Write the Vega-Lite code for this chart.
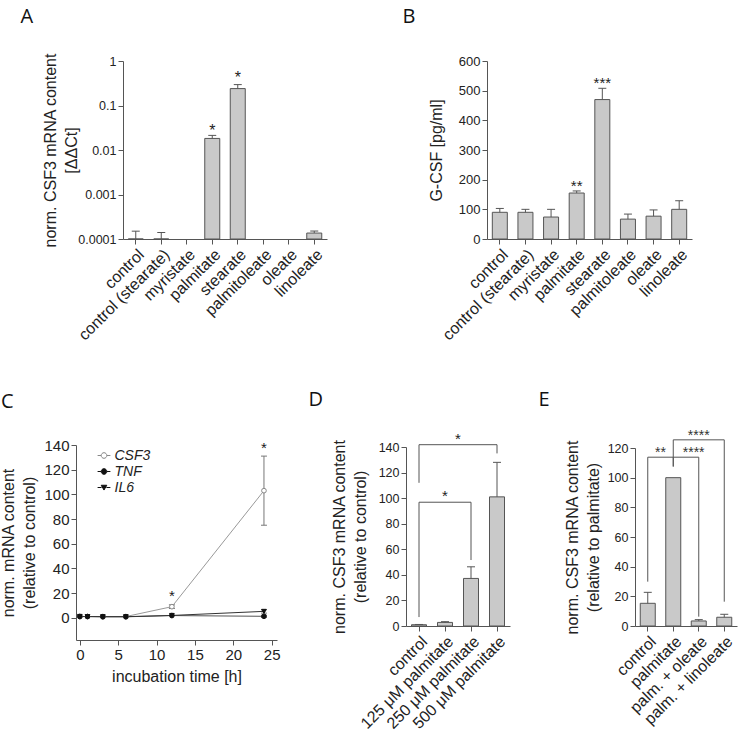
{
  "$schema": "https://vega.github.io/schema/vega-lite/v6.json",
  "width": 738,
  "height": 732,
  "autosize": {"type": "none"},
  "padding": 0,
  "title": {"text": "C", "anchor": "start", "frame": "group", "offset": 0, "baseline": "alphabetic", "dx": 1, "dy": 428, "font": "Open Sans", "fontSize": 20, "fontWeight": "normal", "color": "#111"},
  "layer": [
    {
      "data": {"values": [
        {"cat": "control", "m": 0.0001, "u": 0.00015},
        {"cat": "control (stearate)", "m": 0.0001, "u": 0.00014},
        {"cat": "myristate", "m": null, "u": null},
        {"cat": "palmitate", "m": 0.0182, "u": 0.0213, "star": "*", "sy": 0.033},
        {"cat": "stearate", "m": 0.24, "u": 0.295, "star": "*", "sy": 0.51},
        {"cat": "palmitoleate", "m": null, "u": null},
        {"cat": "oleate", "m": null, "u": null},
        {"cat": "linoleate", "m": 0.000136, "u": 0.000151}
      ]},
      "encoding": {"x": {"field": "cat", "type": "nominal",
        "scale": {"domain": ["control", "control (stearate)", "myristate", "palmitate", "stearate", "palmitoleate", "oleate", "linoleate"], "range": [123, 327], "paddingInner": 0, "paddingOuter": 0},
        "axis": {"orient": "bottom", "offset": -493, "labelAngle": -45, "labelFontSize": 16, "labelPadding": 2, "title": "A", "titleX": 20, "titleY": -217, "titleAlign": "left", "titleBaseline": "alphabetic", "titleAngle": 0, "titleFont": "Open Sans", "titleFontSize": 20, "titleFontWeight": "normal", "titleColor": "#111"}}},
      "layer": [
        {"mark": {"type": "bar", "width": 15, "fill": "#c9c9c9", "stroke": "#555", "strokeWidth": 1},
         "encoding": {
           "y": {"field": "m", "type": "quantitative", "scale": {"type": "log", "domain": [0.0001, 1], "range": [239, 61], "nice": false},
                 "axis": {"orient": "left", "offset": -123, "values": [0.0001, 0.001, 0.01, 0.1, 1], "format": ".4~f", "title": ["norm. CSF3 mRNA content", "[ΔΔCt]"], "titlePadding": -2, "titleLineHeight": 21, "labelFontSize": 12.5}},
           "y2": {"datum": 0.0001}}},
        {"mark": {"type": "rule", "color": "#555"},
         "encoding": {"y": {"field": "m", "type": "quantitative",
                 "axis": {"orient": "left", "offset": -123, "values": [0.0001, 0.001, 0.01, 0.1, 1], "format": ".4~f", "title": ["norm. CSF3 mRNA content", "[ΔΔCt]"], "titlePadding": -2, "titleLineHeight": 21, "labelFontSize": 12.5}},
           "y2": {"field": "u"}}},
        {"mark": {"type": "tick", "orient": "horizontal", "size": 8, "thickness": 1, "color": "#555", "opacity": 1},
         "encoding": {"y": {"field": "u", "type": "quantitative",
                 "axis": {"orient": "left", "offset": -123, "values": [0.0001, 0.001, 0.01, 0.1, 1], "format": ".4~f", "title": ["norm. CSF3 mRNA content", "[ΔΔCt]"], "titlePadding": -2, "titleLineHeight": 21, "labelFontSize": 12.5}}}},
        {"mark": {"type": "text", "fontSize": 16, "baseline": "middle", "dy": 4, "fill": "#222"},
         "encoding": {"y": {"field": "sy", "type": "quantitative",
                 "axis": {"orient": "left", "offset": -123, "values": [0.0001, 0.001, 0.01, 0.1, 1], "format": ".4~f", "title": ["norm. CSF3 mRNA content", "[ΔΔCt]"], "titlePadding": -2, "titleLineHeight": 21, "labelFontSize": 12.5}},
           "text": {"field": "star"}}}
      ]
    },
    {
      "data": {"values": [
        {"cat": "control", "m": 90, "u": 103},
        {"cat": "control (stearate)", "m": 90, "u": 100},
        {"cat": "myristate", "m": 74, "u": 100},
        {"cat": "palmitate", "m": 155, "u": 162, "star": "**", "sy": 193},
        {"cat": "stearate", "m": 470, "u": 508, "star": "***", "sy": 539},
        {"cat": "palmitoleate", "m": 67, "u": 84},
        {"cat": "oleate", "m": 77, "u": 98},
        {"cat": "linoleate", "m": 100, "u": 129}
      ]},
      "encoding": {"x": {"field": "cat", "type": "nominal",
        "scale": {"domain": ["control", "control (stearate)", "myristate", "palmitate", "stearate", "palmitoleate", "oleate", "linoleate"], "range": [487, 692], "paddingInner": 0, "paddingOuter": 0},
        "axis": {"orient": "bottom", "offset": -493, "labelAngle": -45, "labelFontSize": 16, "labelPadding": 2, "title": "B", "titleX": 402, "titleY": -217, "titleAlign": "left", "titleBaseline": "alphabetic", "titleAngle": 0, "titleFont": "Open Sans", "titleFontSize": 20, "titleFontWeight": "normal", "titleColor": "#111"}}},
      "layer": [
        {"mark": {"type": "bar", "width": 15, "fill": "#c9c9c9", "stroke": "#555", "strokeWidth": 1},
         "encoding": {
           "y": {"field": "m", "type": "quantitative", "scale": {"domain": [0, 600], "range": [239, 61], "nice": false},
                 "axis": {"orient": "left", "offset": -487, "values": [0, 100, 200, 300, 400, 500, 600], "title": "G-CSF [pg/ml]", "titlePadding": 14, "labelFontSize": 13}}}},
        {"mark": {"type": "rule", "color": "#555"},
         "encoding": {"y": {"field": "m", "type": "quantitative",
                 "axis": {"orient": "left", "offset": -487, "values": [0, 100, 200, 300, 400, 500, 600], "title": "G-CSF [pg/ml]", "titlePadding": 14, "labelFontSize": 13}},
           "y2": {"field": "u"}}},
        {"mark": {"type": "tick", "orient": "horizontal", "size": 8, "thickness": 1, "color": "#555", "opacity": 1},
         "encoding": {"y": {"field": "u", "type": "quantitative",
                 "axis": {"orient": "left", "offset": -487, "values": [0, 100, 200, 300, 400, 500, 600], "title": "G-CSF [pg/ml]", "titlePadding": 14, "labelFontSize": 13}}}},
        {"mark": {"type": "text", "fontSize": 15, "baseline": "middle", "dy": 4, "fill": "#222"},
         "encoding": {"y": {"field": "sy", "type": "quantitative",
                 "axis": {"orient": "left", "offset": -487, "values": [0, 100, 200, 300, 400, 500, 600], "title": "G-CSF [pg/ml]", "titlePadding": 14, "labelFontSize": 13}},
           "text": {"field": "star"}}}
      ]
    },
    {
      "encoding": {"x": {"field": "t", "type": "quantitative",
        "scale": {"domain": [-0.5, 25.7], "range": [76, 277], "nice": false, "zero": false},
        "axis": {"orient": "bottom", "offset": -92, "values": [0, 5, 10, 15, 20, 25], "title": "incubation time [h]", "labelFontSize": 15, "titlePadding": 6}}},
      "layer": [
        {
          "layer": [
            {"data": {"values": [
              {"g": "CSF3", "t": 0, "v": 1}, {"g": "CSF3", "t": 1, "v": 1}, {"g": "CSF3", "t": 3, "v": 1}, {"g": "CSF3", "t": 6, "v": 1}, {"g": "CSF3", "t": 12, "v": 9}, {"g": "CSF3", "t": 24, "v": 103},
              {"g": "TNF", "t": 0, "v": 1}, {"g": "TNF", "t": 1, "v": 1}, {"g": "TNF", "t": 3, "v": 0.8}, {"g": "TNF", "t": 6, "v": 0.8}, {"g": "TNF", "t": 12, "v": 1.8}, {"g": "TNF", "t": 24, "v": 1.2},
              {"g": "IL6", "t": 0, "v": 1.1}, {"g": "IL6", "t": 1, "v": 1}, {"g": "IL6", "t": 3, "v": 0.9}, {"g": "IL6", "t": 6, "v": 0.9}, {"g": "IL6", "t": 12, "v": 1.9}, {"g": "IL6", "t": 24, "v": 5.2}
             ]},
             "mark": {"type": "line", "strokeWidth": 1},
             "encoding": {
               "y": {"field": "v", "type": "quantitative", "scale": {"domain": [-18, 140], "range": [640, 445], "nice": false, "zero": false},
                     "axis": {"orient": "left", "offset": -76, "values": [0, 20, 40, 60, 80, 100, 120, 140], "title": ["norm. mRNA content", "(relative to control)"], "labelFontSize": 15, "titlePadding": 6, "titleLineHeight": 21}},
               "stroke": {"field": "g", "type": "nominal", "scale": {"domain": ["CSF3", "TNF", "IL6"], "range": ["#999999", "#555555", "#333333"]}, "legend": null}}},
            {"data": {"values": [
              {"g": "CSF3", "t": 12, "lo": 7.5, "hi": 10.5}, {"g": "CSF3", "t": 24, "lo": 75, "hi": 131},
              {"g": "IL6", "t": 24, "lo": 3.8, "hi": 6.5}, {"g": "TNF", "t": 24, "lo": 0.4, "hi": 2}
             ]},
             "layer": [
               {"mark": {"type": "rule", "color": "#777"},
                "encoding": {"y": {"field": "lo", "type": "quantitative",
                     "axis": {"orient": "left", "offset": -76, "values": [0, 20, 40, 60, 80, 100, 120, 140], "title": ["norm. mRNA content", "(relative to control)"], "labelFontSize": 15, "titlePadding": 6, "titleLineHeight": 21}},
                  "y2": {"field": "hi"}}},
               {"mark": {"type": "tick", "orient": "horizontal", "size": 6, "thickness": 1, "color": "#777", "opacity": 1},
                "encoding": {"y": {"field": "lo", "type": "quantitative",
                     "axis": {"orient": "left", "offset": -76, "values": [0, 20, 40, 60, 80, 100, 120, 140], "title": ["norm. mRNA content", "(relative to control)"], "labelFontSize": 15, "titlePadding": 6, "titleLineHeight": 21}}}},
               {"mark": {"type": "tick", "orient": "horizontal", "size": 6, "thickness": 1, "color": "#777", "opacity": 1},
                "encoding": {"y": {"field": "hi", "type": "quantitative",
                     "axis": {"orient": "left", "offset": -76, "values": [0, 20, 40, 60, 80, 100, 120, 140], "title": ["norm. mRNA content", "(relative to control)"], "labelFontSize": 15, "titlePadding": 6, "titleLineHeight": 21}}}}
             ]},
            {"data": {"values": [
              {"g": "CSF3", "t": 0, "v": 1}, {"g": "CSF3", "t": 1, "v": 1}, {"g": "CSF3", "t": 3, "v": 1}, {"g": "CSF3", "t": 6, "v": 1}, {"g": "CSF3", "t": 12, "v": 9}, {"g": "CSF3", "t": 24, "v": 103},
              {"g": "TNF", "t": 0, "v": 1}, {"g": "TNF", "t": 1, "v": 1}, {"g": "TNF", "t": 3, "v": 0.8}, {"g": "TNF", "t": 6, "v": 0.8}, {"g": "TNF", "t": 12, "v": 1.8}, {"g": "TNF", "t": 24, "v": 1.2},
              {"g": "IL6", "t": 0, "v": 1.1}, {"g": "IL6", "t": 1, "v": 1}, {"g": "IL6", "t": 3, "v": 0.9}, {"g": "IL6", "t": 6, "v": 0.9}, {"g": "IL6", "t": 12, "v": 1.9}, {"g": "IL6", "t": 24, "v": 5.2}
             ]},
             "mark": {"type": "point", "opacity": 1, "size": 22, "strokeWidth": 1},
             "encoding": {
               "y": {"field": "v", "type": "quantitative",
                     "axis": {"orient": "left", "offset": -76, "values": [0, 20, 40, 60, 80, 100, 120, 140], "title": ["norm. mRNA content", "(relative to control)"], "labelFontSize": 15, "titlePadding": 6, "titleLineHeight": 21}},
               "shape": {"field": "g", "type": "nominal", "scale": {"domain": ["CSF3", "TNF", "IL6"], "range": ["circle", "circle", "triangle-down"]}, "legend": null},
               "fill": {"field": "g", "type": "nominal", "scale": {"domain": ["CSF3", "TNF", "IL6"], "range": ["#ffffff", "#111111", "#111111"]}, "legend": null},
               "stroke": {"field": "g", "type": "nominal", "scale": {"domain": ["CSF3", "TNF", "IL6"], "range": ["#888888", "#111111", "#111111"]}, "legend": null}}},
            {"data": {"values": []},
             "mark": {"type": "point", "opacity": 1, "strokeWidth": 1},
             "encoding": {
               "shape": {"field": "g", "type": "nominal",
                 "scale": {"domain": ["CSF3", "TNF", "IL6"], "range": ["M-0.8,0H-0.35M0.35,0H0.8M0.35,0A0.35,0.35,0,1,1,-0.35,0A0.35,0.35,0,1,1,0.35,0Z", "M-0.8,0H-0.35M0.35,0H0.8M0.35,0A0.35,0.35,0,1,1,-0.35,0A0.35,0.35,0,1,1,0.35,0Z", "M-0.8,0H-0.3M0.3,0H0.8M-0.35,-0.28H0.35L0,0.32Z"]},
                 "legend": {"title": null, "orient": "none", "legendX": 95.5, "legendY": 447, "padding": 0, "rowPadding": -1, "labelOffset": 2, "labelFontSize": 14, "labelFontStyle": "italic", "labelColor": "#222", "labelFont": "Liberation Sans", "symbolSize": 256, "symbolStrokeWidth": 1, "symbolOpacity": 1}},
               "fill": {"field": "g", "type": "nominal", "scale": {"domain": ["CSF3", "TNF", "IL6"], "range": ["#ffffff", "#111111", "#111111"]},
                 "legend": {"title": null, "orient": "none", "legendX": 95.5, "legendY": 447, "padding": 0, "rowPadding": -1, "labelOffset": 2, "labelFontSize": 14, "labelFontStyle": "italic", "labelColor": "#222", "labelFont": "Liberation Sans", "symbolSize": 256, "symbolStrokeWidth": 1, "symbolOpacity": 1}},
               "stroke": {"field": "g", "type": "nominal", "scale": {"domain": ["CSF3", "TNF", "IL6"], "range": ["#888888", "#111111", "#111111"]},
                 "legend": {"title": null, "orient": "none", "legendX": 95.5, "legendY": 447, "padding": 0, "rowPadding": -1, "labelOffset": 2, "labelFontSize": 14, "labelFontStyle": "italic", "labelColor": "#222", "labelFont": "Liberation Sans", "symbolSize": 256, "symbolStrokeWidth": 1, "symbolOpacity": 1}}}}
          ],
          "resolve": {"scale": {"shape": "independent", "fill": "independent", "stroke": "independent"}}
        },
        {"data": {"values": [{"t": 12, "sy": 21, "s": "*"}, {"t": 24, "sy": 140.5, "s": "*"}]},
         "mark": {"type": "text", "fontSize": 15, "baseline": "middle", "dy": 4, "fill": "#1a1a1a", "fillOpacity": 1, "opacity": 1},
         "encoding": {"y": {"field": "sy", "type": "quantitative",
                 "axis": {"orient": "left", "offset": -76, "values": [0, 20, 40, 60, 80, 100, 120, 140], "title": ["norm. mRNA content", "(relative to control)"], "labelFontSize": 15, "titlePadding": 6, "titleLineHeight": 21}},
           "text": {"field": "s"}}}
      ]
    },
    {
      "encoding": {"x": {"field": "cat", "type": "nominal",
        "scale": {"domain": ["control", "125 μM palmitate", "250 μM palmitate", "500 μM palmitate"], "range": [406, 510], "paddingInner": 0, "paddingOuter": 0},
        "axis": {"orient": "bottom", "offset": -106, "labelAngle": -45, "labelFontSize": 16, "labelPadding": 2, "title": "D", "titleX": 308, "titleY": -221, "titleAlign": "left", "titleBaseline": "alphabetic", "titleAngle": 0, "titleFont": "Open Sans", "titleFontSize": 20, "titleFontWeight": "normal", "titleColor": "#111"}}},
      "layer": [
        {"data": {"values": [
          {"cat": "control", "m": 1, "u": 1.2},
          {"cat": "125 μM palmitate", "m": 2.8, "u": 3.4},
          {"cat": "250 μM palmitate", "m": 37.2, "u": 46.3},
          {"cat": "500 μM palmitate", "m": 101, "u": 128}
         ]},
         "layer": [
          {"mark": {"type": "bar", "width": 15, "fill": "#c9c9c9", "stroke": "#555", "strokeWidth": 1},
           "encoding": {
             "y": {"field": "m", "type": "quantitative", "scale": {"domain": [0, 140], "range": [626, 447], "nice": false},
                   "axis": {"orient": "left", "offset": -406, "values": [0, 20, 40, 60, 80, 100, 120, 140], "title": ["norm. CSF3 mRNA content", "(relative to control)"], "titlePadding": 10, "titleLineHeight": 21, "labelFontSize": 12.5}}}},
          {"mark": {"type": "rule", "color": "#555"},
           "encoding": {"y": {"field": "m", "type": "quantitative",
                   "axis": {"orient": "left", "offset": -406, "values": [0, 20, 40, 60, 80, 100, 120, 140], "title": ["norm. CSF3 mRNA content", "(relative to control)"], "titlePadding": 10, "titleLineHeight": 21, "labelFontSize": 12.5}},
             "y2": {"field": "u"}}},
          {"mark": {"type": "tick", "orient": "horizontal", "size": 8, "thickness": 1, "color": "#555", "opacity": 1},
           "encoding": {"y": {"field": "u", "type": "quantitative",
                   "axis": {"orient": "left", "offset": -406, "values": [0, 20, 40, 60, 80, 100, 120, 140], "title": ["norm. CSF3 mRNA content", "(relative to control)"], "titlePadding": 10, "titleLineHeight": 21, "labelFontSize": 12.5}}}}
         ]},
        {"data": {"values": [
          {"b": 1, "o": 1, "cat": "control", "y": 112}, {"b": 1, "o": 2, "cat": "control", "y": 141.8},
          {"b": 1, "o": 3, "cat": "500 μM palmitate", "y": 141.8}, {"b": 1, "o": 4, "cat": "500 μM palmitate", "y": 135},
          {"b": 2, "o": 1, "cat": "control", "y": 7}, {"b": 2, "o": 2, "cat": "control", "y": 96.8},
          {"b": 2, "o": 3, "cat": "250 μM palmitate", "y": 96.8}, {"b": 2, "o": 4, "cat": "250 μM palmitate", "y": 51.6}
         ]},
         "mark": {"type": "line", "color": "#555", "strokeWidth": 1},
         "encoding": {"y": {"field": "y", "type": "quantitative",
                   "axis": {"orient": "left", "offset": -406, "values": [0, 20, 40, 60, 80, 100, 120, 140], "title": ["norm. CSF3 mRNA content", "(relative to control)"], "titlePadding": 10, "titleLineHeight": 21, "labelFontSize": 12.5}},
           "detail": {"field": "b"}, "order": {"field": "o", "type": "quantitative"}}},
        {"data": {"values": [{"cat": "250 μM palmitate", "sy": 149, "s": "*"}]},
         "mark": {"type": "text", "fontSize": 15, "baseline": "middle", "dy": 4, "fill": "#222"},
         "encoding": {"x": {"field": "cat", "type": "nominal", "bandPosition": 0,
             "axis": {"orient": "bottom", "offset": -106, "labelAngle": -45, "labelFontSize": 16, "labelPadding": 2, "title": "D", "titleX": 308, "titleY": -221, "titleAlign": "left", "titleBaseline": "alphabetic", "titleAngle": 0, "titleFont": "Open Sans", "titleFontSize": 20, "titleFontWeight": "normal", "titleColor": "#111"}},
           "y": {"field": "sy", "type": "quantitative",
                   "axis": {"orient": "left", "offset": -406, "values": [0, 20, 40, 60, 80, 100, 120, 140], "title": ["norm. CSF3 mRNA content", "(relative to control)"], "titlePadding": 10, "titleLineHeight": 21, "labelFontSize": 12.5}},
           "text": {"field": "s"}}},
        {"data": {"values": [{"cat": "125 μM palmitate", "sy": 104.5, "s": "*"}]},
         "mark": {"type": "text", "fontSize": 15, "baseline": "middle", "dy": 4, "fill": "#222"},
         "encoding": {"y": {"field": "sy", "type": "quantitative",
                   "axis": {"orient": "left", "offset": -406, "values": [0, 20, 40, 60, 80, 100, 120, 140], "title": ["norm. CSF3 mRNA content", "(relative to control)"], "titlePadding": 10, "titleLineHeight": 21, "labelFontSize": 12.5}},
           "text": {"field": "s"}}}
      ]
    },
    {
      "encoding": {"x": {"field": "cat", "type": "nominal",
        "scale": {"domain": ["control", "palmitate", "palm. + oleate", "palm. + linoleate"], "range": [635, 737], "paddingInner": 0, "paddingOuter": 0},
        "axis": {"orient": "bottom", "offset": -106, "labelAngle": -45, "labelFontSize": 16, "labelPadding": 2, "title": "E", "titleX": 538, "titleY": -221, "titleAlign": "left", "titleBaseline": "alphabetic", "titleAngle": 0, "titleFont": "Open Sans", "titleFontSize": 20, "titleFontWeight": "normal", "titleColor": "#111"}}},
      "layer": [
        {"data": {"values": [
          {"cat": "control", "m": 15.3, "u": 22.7},
          {"cat": "palmitate", "m": 100, "u": null},
          {"cat": "palm. + oleate", "m": 3.4, "u": 4.3},
          {"cat": "palm. + linoleate", "m": 5.9, "u": 7.9}
         ]},
         "layer": [
          {"mark": {"type": "bar", "width": 15, "fill": "#c9c9c9", "stroke": "#555", "strokeWidth": 1},
           "encoding": {
             "y": {"field": "m", "type": "quantitative", "scale": {"domain": [0, 120], "range": [626, 448], "nice": false},
                   "axis": {"orient": "left", "offset": -635, "values": [0, 20, 40, 60, 80, 100, 120], "title": ["norm. CSF3 mRNA content", "(relative to palmitate)"], "titlePadding": 6, "titleLineHeight": 21, "labelFontSize": 12.5}}}},
          {"mark": {"type": "rule", "color": "#555"},
           "encoding": {"y": {"field": "m", "type": "quantitative",
                   "axis": {"orient": "left", "offset": -635, "values": [0, 20, 40, 60, 80, 100, 120], "title": ["norm. CSF3 mRNA content", "(relative to palmitate)"], "titlePadding": 6, "titleLineHeight": 21, "labelFontSize": 12.5}},
             "y2": {"field": "u"}}},
          {"mark": {"type": "tick", "orient": "horizontal", "size": 8, "thickness": 1, "color": "#555", "opacity": 1},
           "encoding": {"y": {"field": "u", "type": "quantitative",
                   "axis": {"orient": "left", "offset": -635, "values": [0, 20, 40, 60, 80, 100, 120], "title": ["norm. CSF3 mRNA content", "(relative to palmitate)"], "titlePadding": 6, "titleLineHeight": 21, "labelFontSize": 12.5}}}}
         ]},
        {"data": {"values": [
          {"b": 1, "o": 1, "cat": "control", "y": 29.9}, {"b": 1, "o": 2, "cat": "control", "y": 113.8},
          {"b": 1, "o": 3, "cat": "palmitate", "y": 113.8}, {"b": 1, "o": 4, "cat": "palmitate", "y": 107.5},
          {"b": 2, "o": 1, "cat": "palmitate", "y": 113.8}, {"b": 2, "o": 2, "cat": "palm. + oleate", "y": 113.8},
          {"b": 2, "o": 3, "cat": "palm. + oleate", "y": 6.3},
          {"b": 3, "o": 1, "cat": "palmitate", "y": 107.5}, {"b": 3, "o": 2, "cat": "palmitate", "y": 125.5},
          {"b": 3, "o": 3, "cat": "palm. + linoleate", "y": 125.5}, {"b": 3, "o": 4, "cat": "palm. + linoleate", "y": 16.4}
         ]},
         "mark": {"type": "line", "color": "#555", "strokeWidth": 1},
         "encoding": {"y": {"field": "y", "type": "quantitative",
                   "axis": {"orient": "left", "offset": -635, "values": [0, 20, 40, 60, 80, 100, 120], "title": ["norm. CSF3 mRNA content", "(relative to palmitate)"], "titlePadding": 6, "titleLineHeight": 21, "labelFontSize": 12.5}},
           "detail": {"field": "b"}, "order": {"field": "o", "type": "quantitative"}}},
        {"data": {"values": [{"cat": "palmitate", "sy": 119.2, "s": "**"}]},
         "mark": {"type": "text", "fontSize": 14, "baseline": "middle", "dy": 4, "fill": "#333"},
         "encoding": {"x": {"field": "cat", "type": "nominal", "bandPosition": 0,
             "axis": {"orient": "bottom", "offset": -106, "labelAngle": -45, "labelFontSize": 16, "labelPadding": 2, "title": "E", "titleX": 538, "titleY": -221, "titleAlign": "left", "titleBaseline": "alphabetic", "titleAngle": 0, "titleFont": "Open Sans", "titleFontSize": 20, "titleFontWeight": "normal", "titleColor": "#111"}},
           "y": {"field": "sy", "type": "quantitative",
                   "axis": {"orient": "left", "offset": -635, "values": [0, 20, 40, 60, 80, 100, 120], "title": ["norm. CSF3 mRNA content", "(relative to palmitate)"], "titlePadding": 6, "titleLineHeight": 21, "labelFontSize": 12.5}},
           "text": {"field": "s"}}},
        {"data": {"values": [{"cat": "palm. + oleate", "sy": 119.2, "s": "****"}]},
         "mark": {"type": "text", "fontSize": 14, "baseline": "middle", "dy": 4, "fill": "#333"},
         "encoding": {"x": {"field": "cat", "type": "nominal", "bandPosition": 0.3,
             "axis": {"orient": "bottom", "offset": -106, "labelAngle": -45, "labelFontSize": 16, "labelPadding": 2, "title": "E", "titleX": 538, "titleY": -221, "titleAlign": "left", "titleBaseline": "alphabetic", "titleAngle": 0, "titleFont": "Open Sans", "titleFontSize": 20, "titleFontWeight": "normal", "titleColor": "#111"}},
           "y": {"field": "sy", "type": "quantitative",
                   "axis": {"orient": "left", "offset": -635, "values": [0, 20, 40, 60, 80, 100, 120], "title": ["norm. CSF3 mRNA content", "(relative to palmitate)"], "titlePadding": 6, "titleLineHeight": 21, "labelFontSize": 12.5}},
           "text": {"field": "s"}}},
        {"data": {"values": [{"cat": "palm. + oleate", "sy": 131, "s": "****"}]},
         "mark": {"type": "text", "fontSize": 14, "baseline": "middle", "dy": 4, "fill": "#333"},
         "encoding": {"y": {"field": "sy", "type": "quantitative",
                   "axis": {"orient": "left", "offset": -635, "values": [0, 20, 40, 60, 80, 100, 120], "title": ["norm. CSF3 mRNA content", "(relative to palmitate)"], "titlePadding": 6, "titleLineHeight": 21, "labelFontSize": 12.5}},
           "text": {"field": "s"}}}
      ]
    }
  ],
  "resolve": {"scale": {"x": "independent", "y": "independent"}, "axis": {"x": "independent", "y": "independent"}},
  "config": {
    "view": {"stroke": null},
    "font": "Liberation Sans",
    "text": {"font": "Liberation Sans"},
    "axis": {"labelFont": "Liberation Sans", "titleFont": "Liberation Sans", "titleFontWeight": "normal", "labelColor": "#222", "titleColor": "#222", "domainColor": "#555", "tickColor": "#555", "grid": false, "tickSize": 5, "labelFontSize": 12.5, "titleFontSize": 16, "labelFlush": false, "labelOverlap": false}
  }
}
